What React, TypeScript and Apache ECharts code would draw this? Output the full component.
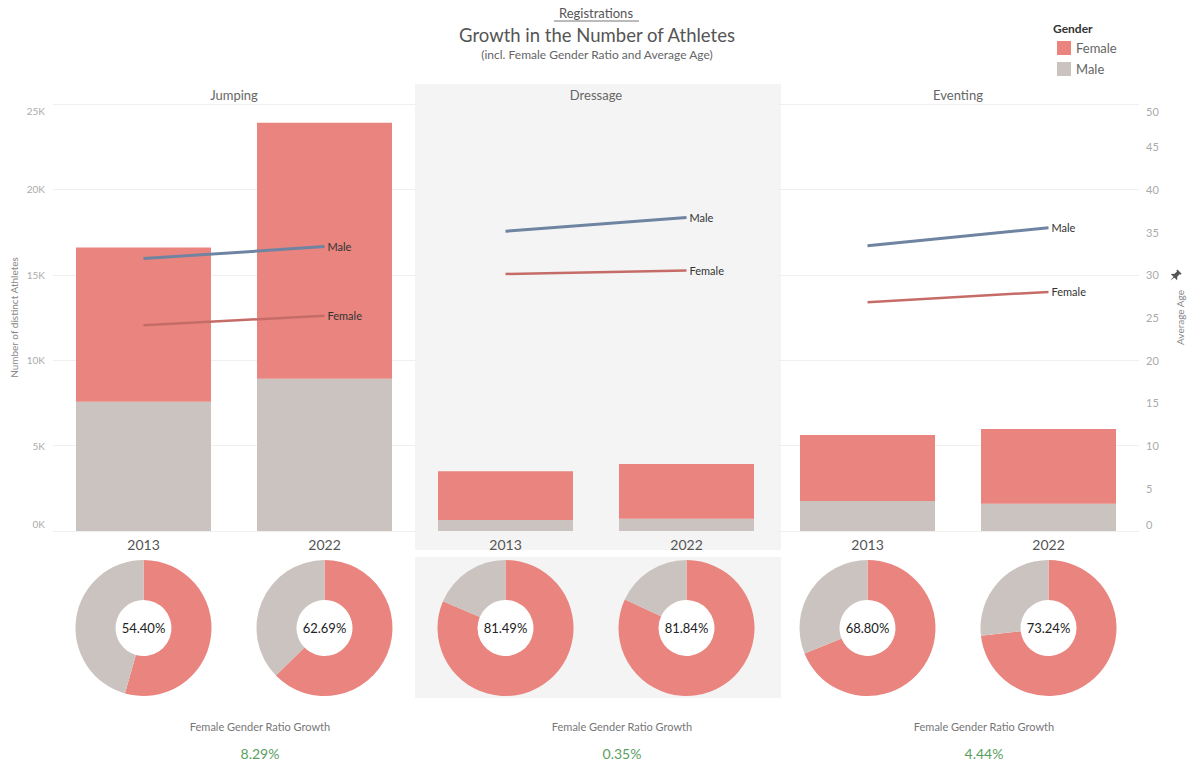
import React, { useEffect, useRef } from 'react';
import * as echarts from 'echarts';

const disciplines = ['Jumping', 'Dressage', 'Eventing'];
const years = ['2013', '2022'];
const femaleCounts = [[9030, 14980], [2850, 3210], [3870, 4370]];
const maleCounts = [[7570, 8920], [650, 710], [1750, 1600]];
const femaleAge = [[24.1, 25.2], [30.1, 30.5], [26.8, 28.0]];
const maleAge = [[31.9, 33.3], [35.1, 36.7], [33.4, 35.5]];
const femaleRatioLabels = [['54.40%', '62.69%'], ['81.49%', '81.84%'], ['68.80%', '73.24%']];
const ratioGrowth = ['8.29%', '0.35%', '4.44%'];

const FEMALE = '#e9847e';
const MALE = '#cbc3bf';
const MALE_LINE = '#6f84a0';
const FEMALE_LINE = '#c66c68';
const FONT = 'Lato';

const panelLeft = [53, 415, 777];
const panelWidth = 362;
const gridTop = 104;
const gridBottomY = 531;

const pinPath = 'M2 0 H8 V1.5 H7 V5 L9.5 8 H0.5 L3 5 V1.5 H2 Z M4.4 8 H5.6 L5 13 Z';

const edgeRich = {
  top: { padding: [14, 0, 0, 0] },
  bot: { padding: [0, 0, 14, 0] },
  mid: {},
};

export default function App() {
  const ref = useRef<HTMLDivElement>(null);
  useEffect(() => {
    document.body.style.margin = '0';
    try {
      echarts.graphic.registerShape('pin', echarts.graphic.extendPath(pinPath, {}) as any);
    } catch (e) {}
    const chart = echarts.init(ref.current!, null, { renderer: 'svg' });

    const grids: any[] = [];
    const xAxes: any[] = [];
    const yAxes: any[] = [];
    const series: any[] = [];

    const edgeFmt = (min: number, max: number, fmt: (v: number) => string) => (v: number) => {
      const s = fmt(v);
      if (v === max) return '{top|' + s + '}';
      if (v === min) return '{bot|' + s + '}';
      return '{mid|' + s + '}';
    };

    disciplines.forEach((d, i) => {
      grids.push({
        left: panelLeft[i],
        width: panelWidth,
        top: gridTop,
        height: gridBottomY - gridTop,
        containLabel: false,
      });
      xAxes.push({
        type: 'category',
        gridIndex: i,
        data: years,
        axisLine: { show: false },
        axisTick: { show: false },
        axisLabel: { fontSize: 14, color: '#555', margin: 6, fontFamily: FONT },
      });
      yAxes.push({
        type: 'value',
        gridIndex: i,
        min: 0,
        max: 25000,
        interval: 5000,
        position: 'left',
        axisLine: { show: false },
        axisTick: { show: false },
        splitLine: { show: i !== 1, lineStyle: { color: '#efefef', width: 1 } },
        axisLabel: {
          show: i === 0,
          fontSize: 10,
          color: '#aaa',
          margin: 8,
          fontFamily: FONT,
          formatter: edgeFmt(0, 25000, (v: number) => v / 1000 + 'K'),
          rich: edgeRich,
        },
        name: i === 0 ? 'Number of distinct Athletes' : '',
        nameLocation: 'middle',
        nameRotate: 90,
        nameGap: 34,
        nameTextStyle: { fontSize: 10, color: '#888', fontFamily: FONT },
      });
      yAxes.push({
        type: 'value',
        gridIndex: i,
        min: 0,
        max: 50,
        interval: 5,
        position: 'right',
        axisLine: { show: false },
        axisTick: { show: false },
        splitLine: { show: false },
        axisLabel: {
          show: i === 2,
          fontSize: 11,
          color: '#aaa',
          margin: 7,
          fontFamily: FONT,
          formatter: edgeFmt(0, 50, (v: number) => String(v)),
          rich: edgeRich,
        },
        name: i === 2 ? 'Average Age' : '',
        nameLocation: 'middle',
        nameRotate: 90,
        nameGap: 36,
        nameTextStyle: { fontSize: 10, color: '#888', fontFamily: FONT },
      });
      series.push({
        type: 'bar',
        name: 'Male',
        xAxisIndex: i,
        yAxisIndex: 2 * i,
        stack: 'g' + i,
        barWidth: 135,
        data: maleCounts[i],
        itemStyle: { color: MALE },
      });
      series.push({
        type: 'bar',
        name: 'Female',
        xAxisIndex: i,
        yAxisIndex: 2 * i,
        stack: 'g' + i,
        barWidth: 135,
        data: femaleCounts[i],
        itemStyle: { color: FEMALE },
      });
      const mkLine = (name: string, data: number[], color: string, width: number) => ({
        type: 'line',
        name: name + ' age',
        xAxisIndex: i,
        yAxisIndex: 2 * i + 1,
        data,
        symbol: 'none',
        lineStyle: { color, width },
        endLabel: { show: true, formatter: name, distance: 3, color: '#333', fontSize: 11, fontFamily: FONT },
        z: 5,
      });
      series.push(mkLine('Male', maleAge[i], MALE_LINE, 3));
      series.push(mkLine('Female', femaleAge[i], FEMALE_LINE, 2.5));

      years.forEach((y, j) => {
        series.push({
          type: 'pie',
          name: d + ' ' + y,
          center: [panelLeft[i] + panelWidth * (j === 0 ? 0.25 : 0.75), 628],
          radius: [28, 68],
          startAngle: 90,
          clockwise: true,
          avoidLabelOverlap: false,
          labelLine: { show: false },
          emphasis: { disabled: true },
          data: [
            {
              name: 'Female',
              value: femaleCounts[i][j],
              itemStyle: { color: FEMALE },
              label: { show: true, position: 'center', formatter: femaleRatioLabels[i][j], fontSize: 13, color: '#222', fontFamily: FONT },
            },
            { name: 'Male', value: maleCounts[i][j], itemStyle: { color: MALE }, label: { show: false } },
          ],
        });
      });
    });

    const graphics: any[] = [
      { type: 'rect', z: -10, silent: true, shape: { x: 415, y: 84, width: 366, height: 466 }, style: { fill: '#f4f4f4' } },
      { type: 'rect', z: -10, silent: true, shape: { x: 415, y: 557, width: 366, height: 141 }, style: { fill: '#f4f4f4' } },
      { type: 'circle', z: -9, silent: true, shape: { cx: 415 + panelWidth * 0.25, cy: 628, r: 28.5 }, style: { fill: '#ffffff' } },
      { type: 'circle', z: -9, silent: true, shape: { cx: 415 + panelWidth * 0.75, cy: 628, r: 28.5 }, style: { fill: '#ffffff' } },
      { type: 'text', x: 596, y: 13, style: { text: 'Registrations', fontSize: 13, fill: '#555', align: 'center', verticalAlign: 'middle', fontFamily: FONT } },
      { type: 'line', shape: { x1: 554, y1: 21, x2: 639, y2: 21 }, style: { stroke: '#777', lineWidth: 1 } },
      { type: 'text', x: 597, y: 35, style: { text: 'Growth in the Number of Athletes', fontSize: 18.5, fill: '#555', align: 'center', verticalAlign: 'middle', fontFamily: FONT } },
      { type: 'text', x: 597, y: 54, style: { text: '(incl. Female Gender Ratio and Average Age)', fontSize: 12, fill: '#666', align: 'center', verticalAlign: 'middle', fontFamily: FONT } },
      { type: 'text', x: 1053, y: 28, style: { text: 'Gender', fontSize: 12, fontWeight: 'bold', fill: '#333', align: 'left', verticalAlign: 'middle', fontFamily: FONT } },
      { type: 'pin', x: 1176, y: 268, rotation: -Math.PI / 4, scaleX: 1, scaleY: 1, style: { fill: '#555' } },
    ];
    disciplines.forEach((d, i) => {
      const cx = panelLeft[i] + panelWidth / 2;
      graphics.push({ type: 'text', x: cx, y: 95, style: { text: d, fontSize: 13, fill: '#666', align: 'center', verticalAlign: 'middle', fontFamily: FONT } });
      graphics.push({ type: 'text', x: cx + 26, y: 726, style: { text: 'Female Gender Ratio Growth', fontSize: 11, fill: '#777', align: 'center', verticalAlign: 'middle', fontFamily: FONT } });
      graphics.push({ type: 'text', x: cx + 26, y: 753, style: { text: ratioGrowth[i], fontSize: 14, fill: '#5a9e5f', align: 'center', verticalAlign: 'middle', fontFamily: FONT } });
    });

    chart.setOption({
      animation: false,
      backgroundColor: '#ffffff',
      textStyle: { fontFamily: FONT },
      legend: {
        data: ['Female', 'Male'],
        orient: 'vertical',
        left: 1052,
        top: 36,
        itemWidth: 14,
        itemHeight: 14,
        itemGap: 7,
        icon: 'rect',
        selectedMode: false,
        textStyle: { fontSize: 13, color: '#666', fontFamily: FONT },
      },
      grid: grids,
      xAxis: xAxes,
      yAxis: yAxes,
      series,
      graphic: graphics,
    });
    return () => chart.dispose();
  }, []);
  return <div ref={ref} style={{ width: 1191, height: 768 }} />;
}
